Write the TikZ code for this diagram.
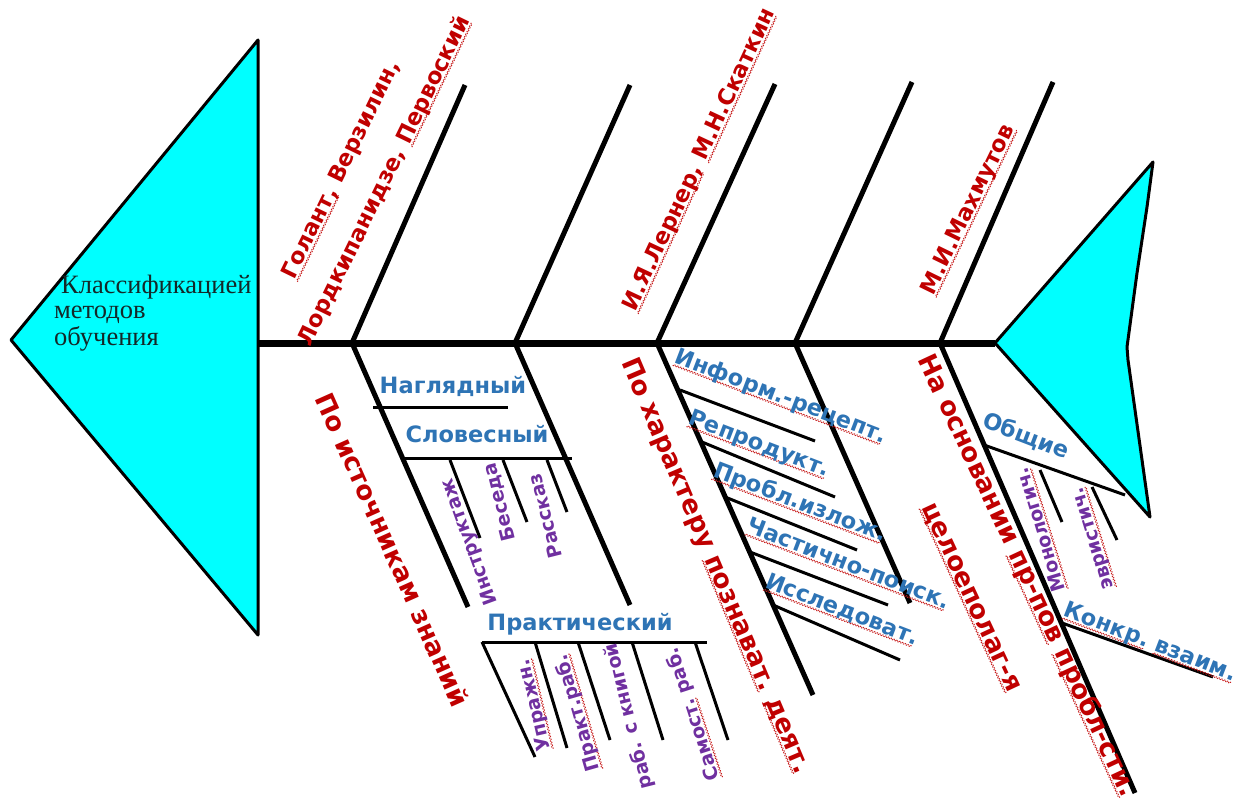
\documentclass[tikz,border=0pt]{standalone}
\usepackage{fontspec}
\setmainfont{Liberation Serif}
\newfontfamily\labfont{DejaVu Sans}
\definecolor{fishcyan}{RGB}{0,255,255}
\definecolor{authred}{RGB}{192,0,0}
\definecolor{catblue}{RGB}{46,116,181}
\definecolor{subpurple}{RGB}{112,48,160}
\definecolor{squig}{RGB}{200,30,30}
\definecolor{headink}{RGB}{20,40,40}
% wavy proof-reading mark under a word
\newcommand\sqz[1]{\setbox0=\hbox{#1}\rlap{\smash{\raisebox{-3.5pt}{\color{squig}\leaders\hbox to 3pt{\rule{1.3pt}{1pt}\hss\raisebox{1pt}{\rule{1.3pt}{1pt}}\hss}\hskip\wd0}}}\box0\relax}
\begin{document}
\begin{tikzpicture}[x=1pt,y=-1pt,
  spine/.style={line width=7pt},
  bone/.style={line width=5pt},
  twig/.style={line width=3pt},
  fin/.style={draw=black,line width=3pt,fill=fishcyan,line join=round},
  authortxt/.style={inner sep=0pt,text=authred,font=\labfont\bfseries\fontsize{22.5}{27}\selectfont},
  basistxt/.style={inner sep=0pt,text=authred,font=\labfont\bfseries\fontsize{26}{31}\selectfont},
  cattxt/.style={inner sep=0pt,text=catblue,font=\labfont\bfseries\fontsize{22.5}{27}\selectfont},
  subtxt/.style={inner sep=0pt,text=subpurple,font=\labfont\bfseries\fontsize{19}{23}\selectfont},
  headtxt/.style={inner sep=0pt,anchor=base west,text=headink,font=\fontsize{26.5}{30}\selectfont}]
\fill[white] (0,0) rectangle (1242,805);
\useasboundingbox (0,0) rectangle (1242,805);

% spine joints and bone ends
\coordinate (h) at (258,343);
\coordinate (t) at (995,343);
\coordinate (b1) at (352,343); \coordinate (u1) at (465,85);  \coordinate (l1) at (468,607);
\coordinate (b2) at (515,343); \coordinate (u2) at (630,85);  \coordinate (l2) at (630,605);
\coordinate (b3) at (657,343); \coordinate (u3) at (775,84);  \coordinate (l3) at (813,695);
\coordinate (b4) at (795,343); \coordinate (u4) at (912,82);  \coordinate (l4) at (910,603);
\coordinate (b5) at (940,343); \coordinate (u5) at (1053,82); \coordinate (l5) at (1135,793);

\draw[spine] (h) -- (t);
\foreach \i in {1,...,5}{
  \draw[bone] (b\i) -- (u\i);
  \draw[bone] (b\i) -- (l\i);
}

% sources of knowledge: category shelves
\coordinate (ng0) at (373,407); \coordinate (ng1) at (508,407);
\coordinate (sl0) at (402,458); \coordinate (sl1) at (572,458);
\coordinate (pr0) at (482,642); \coordinate (pr1) at (707,642);
\draw[twig] (ng0) -- (ng1);
\draw[twig] (sl0) -- (sl1);
\draw[twig] (pr0) -- (pr1);
% verbal methods
\coordinate (s1a) at (450,460); \coordinate (s1b) at (480,538);
\coordinate (s2a) at (503,460); \coordinate (s2b) at (527,522);
\coordinate (s3a) at (547,460); \coordinate (s3b) at (567,512);
\draw[twig] (s1a) -- (s1b);
\draw[twig] (s2a) -- (s2b);
\draw[twig] (s3a) -- (s3b);
% practical methods
\coordinate (p1a) at (482,642); \coordinate (p1b) at (535,757);
\coordinate (p2a) at (535,642); \coordinate (p2b) at (567,748);
\coordinate (p3a) at (578,642); \coordinate (p3b) at (610,740);
\coordinate (p4a) at (632,642); \coordinate (p4b) at (663,740);
\coordinate (p5a) at (695,642); \coordinate (p5b) at (728,740);
\foreach \i in {1,...,5}{\draw[twig] (p\i a) -- (p\i b);}
% cognitive activity levels
\coordinate (c1a) at (680,390); \coordinate (c1b) at (815,441);
\coordinate (c2a) at (702,442); \coordinate (c2b) at (835,497);
\coordinate (c3a) at (725,497); \coordinate (c3b) at (857,550);
\coordinate (c4a) at (750,552); \coordinate (c4b) at (888,605);
\coordinate (c5a) at (773,605); \coordinate (c5b) at (900,660);
\foreach \i in {1,...,5}{\draw[twig] (c\i a) -- (c\i b);}
% problem-based branch
\coordinate (g0) at (984,445);  \coordinate (g1) at (1125,495);
\coordinate (m0) at (1040,470); \coordinate (m1) at (1062,522);
\coordinate (e0) at (1092,487); \coordinate (e1) at (1117,540);
\coordinate (k0) at (1062,623); \coordinate (k1) at (1213,677);
\draw[twig] (g0) -- (g1);
\draw[twig] (m0) -- (m1);
\draw[twig] (e0) -- (e1);
\draw[twig] (k0) -- (k1);

% head and tail fins
\draw[fin] (11,340) -- (258,40) -- (258,635) -- cycle;
\draw[fin] (t) -- (1153,162) -- (1147,207) -- (1137,273) -- (1127,347) -- (1128,360) -- (1150,517) -- cycle;

\node[headtxt] (hd1) at (61,293) {Классификацией};
\node[headtxt] (hd2) at (54,318) {методов};
\node[headtxt] (hd3) at (54,345) {обучения};

% authors
\node[authortxt,rotate=64] (a1) at (342,170) {\sqz{Голант,} Верзилин,};
\node[authortxt,rotate=64] (a2) at (385,181) {Лордкипанидзе, \sqz{Первоский}};
\node[authortxt,rotate=65] (a3) at (700,160) {\sqz{И.Я.Лернер,} \sqz{М.Н.Скаткин}};
\node[authortxt,rotate=64] (a4) at (969,210) {\sqz{М.И.Махмутов}};

% classification bases
\node[basistxt,rotate=-66] (k1t) at (393,550) {По источникам знаний};
\node[basistxt,rotate=-67] (k2t) at (715,566) {По характеру \sqz{познават.} \sqz{деят.}};
\node[basistxt,rotate=-65] (k3t) at (1027,576) {На основании \sqz{пр-пов} \sqz{пробл-сти.}};
\node[basistxt,rotate=-65] (k4t) at (970,598) {\sqz{целоеполаг-я}};

% method groups
\node[cattxt] (ng) at (453,386) {Наглядный};
\node[cattxt] (sl) at (477,434) {Словесный};
\node[cattxt] (pr) at (580,624) {Практический};
\node[cattxt,rotate=-21] (c1) at (781,397) {\sqz{Информ.-рецепт.}};
\node[cattxt,rotate=-21] (c2) at (759,445) {\sqz{Репродукт.}};
\node[cattxt,rotate=-21] (c3) at (800,503) {\sqz{Пробл.излож.}};
\node[cattxt,rotate=-21] (c4) at (849,563) {\sqz{Частично-поиск.}};
\node[cattxt,rotate=-21] (c5) at (842,610) {\sqz{Исследоват.}};
\node[cattxt,rotate=-21] (gen) at (1026,436) {Общие};
\node[cattxt,rotate=-21] (kv) at (1150,643) {\sqz{Конкр.} \sqz{взаим.}};

% individual methods
\node[subtxt,rotate=110] (m1t) at (470,542) {Инструктаж};
\node[subtxt,rotate=104] (m2t) at (500,502) {Беседа};
\node[subtxt,rotate=104] (m3t) at (545,516) {Рассказ};
\node[subtxt,rotate=103] (m4t) at (535,705) {\sqz{Упражн.}};
\node[subtxt,rotate=106] (m5t) at (578,713) {\sqz{Практ.раб.}};
\node[subtxt,rotate=104] (m6t) at (629,716) {раб. с книгой};
\node[subtxt,rotate=108] (m7t) at (693,714) {\sqz{Самост.} раб.};
\node[subtxt,rotate=107] (m8t) at (1040,530) {\sqz{Монологич.}};
\node[subtxt,rotate=107] (m9t) at (1095,538) {\sqz{эвристич.}};
\end{tikzpicture}
\end{document}
